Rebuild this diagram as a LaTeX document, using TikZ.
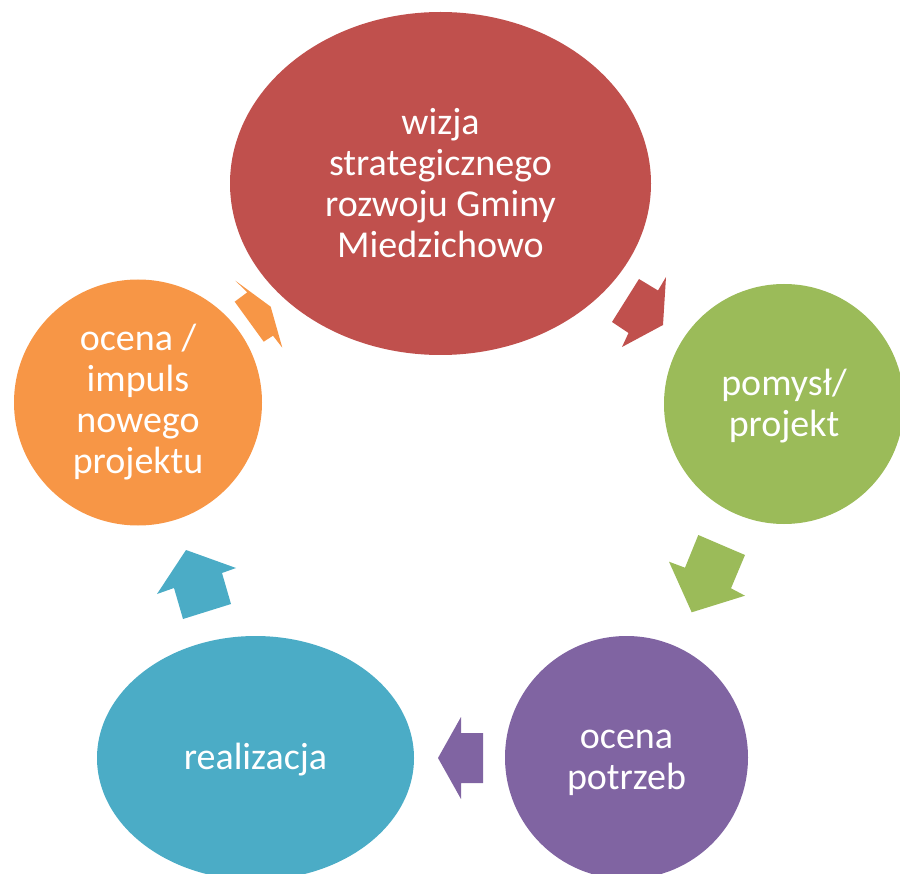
\documentclass[tikz,border=0pt]{standalone}
\usepackage{fontspec}
\setmainfont{Carlito}
\usetikzlibrary{shapes.geometric}
\definecolor{cred}{HTML}{C0504D}
\definecolor{cgreen}{HTML}{9BBB59}
\definecolor{cpurple}{HTML}{8064A2}
\definecolor{cteal}{HTML}{4BACC6}
\definecolor{corange}{HTML}{F79646}
\tikzset{
  bubble/.style={ellipse, inner sep=0pt, text=white, align=center,
    font=\fontsize{38}{41}\selectfont}
}
\begin{document}
\begin{tikzpicture}[x=1pt,y=-1pt]
\useasboundingbox (0,0) rectangle (900,874);
\clip (0,0) rectangle (900,874);
% nodes
\node[bubble, fill=cred, minimum width=421pt, minimum height=343pt] (vision) at (440.5,183.5) {wizja\\strategicznego\\rozwoju Gminy\\Miedzichowo};
\node[bubble, fill=cgreen, minimum width=240pt, minimum height=240pt] (idea) at (784,404) {};
\node[text=white, align=center, font=\fontsize{38}{41}\selectfont] (ideatext) at (784,406) {pomysł/\\projekt};
\node[bubble, fill=cpurple, minimum width=243pt, minimum height=243pt] (needs) at (626.5,757.5) {};
\node[text=white, align=center, font=\fontsize{38}{41}\selectfont] (needstext) at (626.5,763) {ocena\\potrzeb};
\node[bubble, fill=cteal, minimum width=317pt, minimum height=244pt] (real) at (255.5,758) {};
\node[text=white, align=center, font=\fontsize{38}{41}\selectfont] (realtext) at (255.5,760) {realizacja};
\node[bubble, fill=corange, minimum width=248pt, minimum height=246pt] (eval) at (138,402.5) {ocena /\\impuls\\nowego\\projektu};
% arrows
\fill[cred] (639,279) -- (658,290.5) -- (666,277) -- (663,325) -- (622,347) -- (628.5,333) -- (612,322) -- cycle;
\fill[cgreen] (698.3,535) -- (745,555) -- (731,588.3) -- (745,595.7) -- (691.7,612.3) -- (669,561.7) -- (685,567.7) -- cycle;
\fill[cpurple] (438,758) -- (461,717) -- (461,733) -- (483,733) -- (483,783) -- (461,783) -- (461,799) -- cycle;
\fill[cteal] (186,550) -- (236,568) -- (222,573) -- (231,604) -- (183,619) -- (174,588) -- (157,594) -- cycle;
\fill[corange] (235.3,280.7) -- (270.7,306.7) -- (282.3,347.7) -- (273,335.7) -- (263.7,341.7) -- (234.7,301.7) -- (247.3,292.3) -- cycle;
\end{tikzpicture}
\end{document}
